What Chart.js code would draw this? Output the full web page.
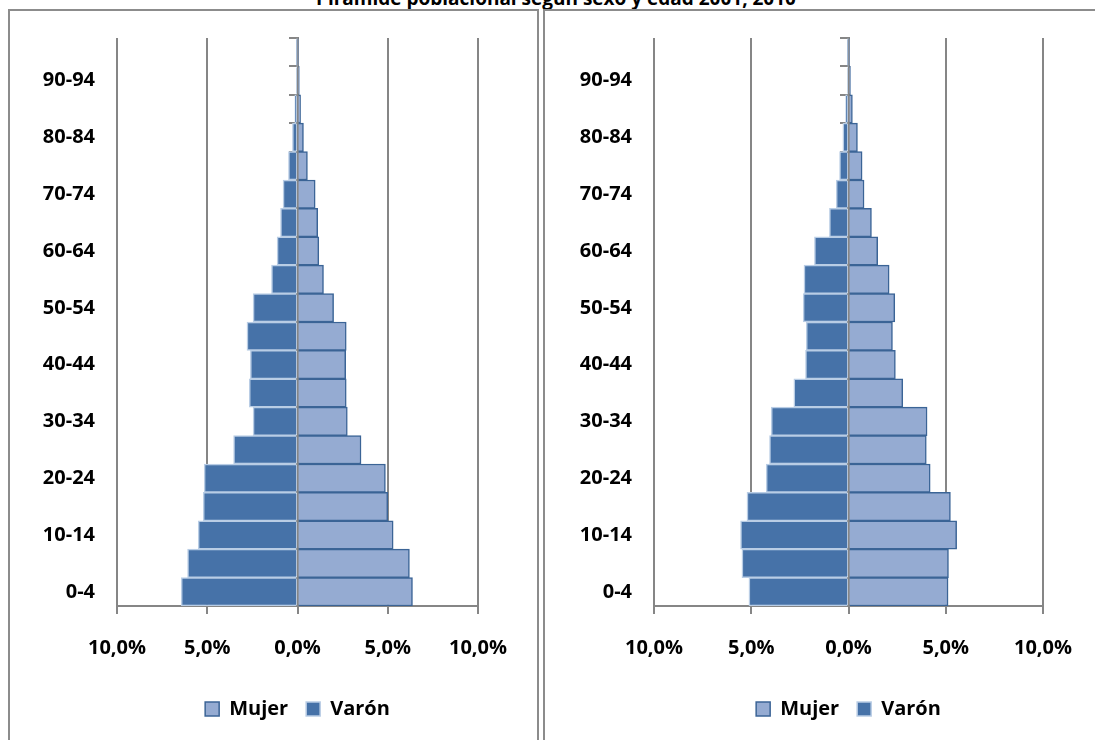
<!DOCTYPE html>
<html>
<head>
<meta charset="utf-8">
<script src="https://cdn.jsdelivr.net/npm/chart.js@4"></script>
<style>
html,body{margin:0;padding:0;background:#fff;overflow:hidden;}
body{width:1095px;height:740px;position:relative;font-family:"Open Sans",sans-serif;}
#title{position:absolute;left:0;width:1112px;top:-12px;line-height:20px;text-align:center;font-weight:bold;font-size:19px;color:#000;}
.frame{position:absolute;top:9px;height:760px;border:2px solid #8c8c8c;box-sizing:border-box;}
.box{position:absolute;top:4px;height:736px;}
</style>
</head>
<body>
<div id="title">Pirámide poblacional según sexo y edad 2001, 2010</div>
<div class="frame" style="left:8px;width:531px;"></div>
<div class="frame" style="left:543px;width:600px;"></div>
<div class="box" style="left:10px;width:525px;"><canvas id="c1"></canvas></div>
<div class="box" style="left:545px;width:575px;"><canvas id="c2"></canvas></div>
<script>
// grupos de edad, de abajo hacia arriba
let ages = ['0-4','5-9','10-14','15-19','20-24','25-29','30-34','35-39','40-44','45-49',
'50-54','55-59','60-64','65-69','70-74','75-79','80-84','85-89','90-94','95-99'];

let mujer2001 = [6.37,6.2,5.3,5.0,4.87,3.52,2.76,2.7,2.67,2.7,2.0,1.44,1.18,1.12,0.98,0.55,0.33,0.17,0.1,0.05];
let varon2001 = [6.44,6.09,5.5,5.22,5.17,3.54,2.46,2.67,2.61,2.8,2.46,1.44,1.13,0.94,0.8,0.5,0.28,0.15,0.06,0.02];

let mujer2010 = [5.12,5.14,5.56,5.24,4.2,4.0,4.04,2.79,2.41,2.26,2.38,2.09,1.5,1.18,0.8,0.7,0.46,0.2,0.1,0.04];
let varon2010 = [5.12,5.48,5.55,5.22,4.23,4.06,3.97,2.81,2.21,2.17,2.33,2.29,1.75,0.98,0.63,0.46,0.29,0.15,0.05,0.02];

let xTicks = [-10,-5,0,5,10];

let grey = '#868686';
let font = {family:'"Open Sans", sans-serif', size:20, weight:'bold'};

function makeChart(id, mujer, varon, yWidth, padRight){

return new Chart(document.getElementById(id), {
type:'bar',
data:{
labels:ages,
datasets:[
{
label:'Mujer',
data:mujer,
backgroundColor:'#95abd2',
borderColor:'#3b6496',
borderWidth:1.5,
barPercentage:1,
categoryPercentage:1
},
{
label:'Varón',
data:varon.map(v => -v),
backgroundColor:'#4672a8',
borderColor:'#b9cde5',
borderWidth:1.5,
barPercentage:1,
categoryPercentage:1
}
]
},
options:{
indexAxis:'y',
responsive:true,
maintainAspectRatio:false,
animation:false,
layout:{padding:{top:18,right:padRight,bottom:11,left:0}},
scales:{
x:{
stacked:true,
min:xTicks[0],
max:xTicks[xTicks.length-1],
afterBuildTicks:(s) => { s.ticks = xTicks.map(v => ({value:v})); },
grid:{color:grey,lineWidth:2,tickLength:8},
border:{color:grey,width:2},
ticks:{
color:'#000',
font:font,
padding:22,
maxRotation:0,
callback:(v) => Math.abs(v).toFixed(1).replace('.', ',') + '%'
},
afterFit:(s) => { s.height = 75; }
},
y:{
stacked:true,
reverse:true,
grid:{display:false,drawTicks:false},
border:{display:false},
ticks:{
color:'#000',
font:font,
padding:22,
autoSkip:false,
callback:function(v, i){ return i % 2 == 0 ? ages[i] : ''; }
},
afterFit:(s) => { s.width = yWidth; }
},
yz:{
type:'category',
labels:ages,
reverse:true,
offset:true,
position:{x:0},
grid:{offset:true,drawOnChartArea:false,color:grey,lineWidth:2,tickLength:8},
border:{color:grey,width:2},
ticks:{display:false}
}
},
plugins:{
legend:{
position:'bottom',
fullSize:false,
labels:{
color:'#000',
font:font,
boxWidth:14,
boxHeight:14,
padding:18
}
},
tooltip:{enabled:false}
}
}
});

}

makeChart('c1', mujer2001, varon2001, 107, 57);
makeChart('c2', mujer2010, varon2010, 109, 77);
</script>
</body>
</html>
